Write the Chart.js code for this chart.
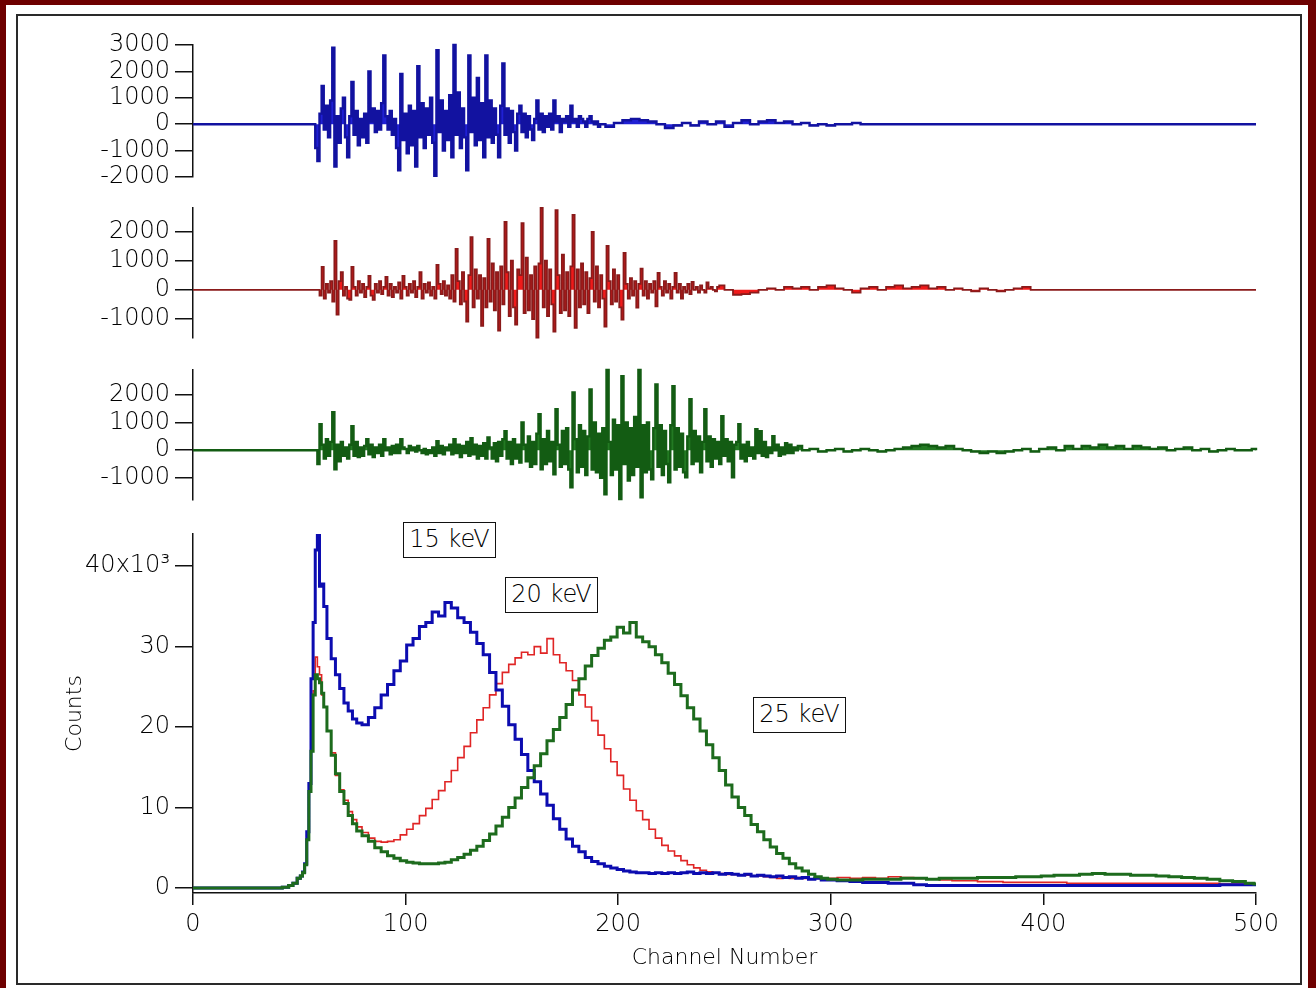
<!DOCTYPE html>
<html>
<head>
<meta charset="utf-8">
<script src="https://cdn.jsdelivr.net/npm/chart.js@4/dist/chart.umd.min.js"></script>
<style>
  body { margin: 0; width: 1316px; height: 988px; background: #6e0000; position: relative; overflow: hidden; }
  #sheet { position: absolute; left: 6px; top: 5px; width: 1302px; height: 983px; background: #fff; }
  #frame { position: absolute; left: 16px; top: 14px; width: 1282px; height: 967px; border: 2px solid #2a2a2a; }
  canvas { position: absolute; left: 0; }
  .tag {
    position: absolute; box-sizing: border-box; border: 1.5px solid #111; background: #fff;
    font: 300 24px "DejaVu Sans", sans-serif; color: #000; text-align: center; line-height: 33px;
    width: 93px; height: 36px;
  }
</style>
</head>
<body>
<div id="sheet"></div>
<div id="frame"></div>
<canvas id="bluePanel" width="1316" height="172" style="top:25px"></canvas>
<canvas id="redPanel" width="1316" height="170" style="top:188px"></canvas>
<canvas id="greenPanel" width="1316" height="170" style="top:350px"></canvas>
<canvas id="countsPanel" width="1316" height="469" style="top:514px"></canvas>
<div class="tag" style="left:403px;top:522px">15 keV</div>
<div class="tag" style="left:505px;top:577px">20 keV</div>
<div class="tag" style="left:753px;top:697px">25 keV</div>

<script>
// ---- oscillation traces (one value per channel in the burst, every 4 channels in the tail) ----
const blueBurstStart = 56;
const blueBurst = [
  0, 0, -900, -1400, 400, 1450, -200, 700, -500, 900,
  2900, -1600, 300, -700, 600, 1000, -500, -1250, 300, 1600,
  -400, 500, -800, 200, -500, 400, -700, 2000, 100, 600,
  -300, 500, -200, 800, 2600, 300, -200, 500, -400, 200,
  -900, -1750, 1900, -600, 400, -1100, 700, -800, 500, -1600,
  2200, -500, 800, -900, 600, -400, 1000, -700, -1950, 2800,
  -300, 900, -1000, 500, -600, 1100, -1250, 3000, -400, 1200,
  -900, 600, -500, -1750, 2600, -300, 1000, -800, 1750, -600,
  800, -1250, 2600, -500, 900, -700, 600, -400, -1250, 700,
  2300, -400, 600, -700, 500, -300, -1000, 400, 700, -300,
  400, -500, 300, -200, -600, 200, 900, -200, 400, -300,
  300, -100, 400, -200, 900, 100, 300, -300, 200, 100,
  300, -100, 700, 100, 200, -100, 300, 200, 100, -100,
  200, 300, 100, 0, 100, -100
];
const blueTailStart = 192;
const blueTail = [
  0, -100, 50, 150, 200, 150, 100, 0, -150, -50,
  50, -50, 100, 0, 100, -100, 50, 150, 0, 100,
  150, 50, 100, 0, 50, -50, 0, -50, 0, 0,
  50, 0, 0
];

const redBurstStart = 58;
const redBurst = [
  0, 0, -200, 785, -300, 200, -100, 300, -400, 1670,
  -850, 300, 600, -200, 100, -300, -340, 785, 100, -200,
  300, -100, 200, -250, 100, 480, -200, -340, 200, -100,
  300, -150, 100, 440, -200, 200, -250, 100, -100, 250,
  -300, 480, 100, -200, 200, -100, 300, -250, 100, 600,
  -300, 200, -100, 250, -200, 100, -300, 850, 200, -150,
  300, -200, 150, -300, 500, -400, 1400, 300, -500, 600,
  -400, -1090, 500, 1800, -600, 700, -300, 500, -1230, 400,
  -600, 1740, -400, 900, -700, 600, -1400, 800, -500, 2320,
  600, -900, 1000, -600, -1190, 700, 500, 2280, -800, 1100,
  -700, 500, -1000, 800, -1640, 900, 2800, -600, 1000, -900,
  700, -500, -1430, 2730, 500, -800, 1200, -700, 600, -900,
  800, 2560, -1300, 700, -600, 900, -500, 600, -800, 400,
  1980, -400, 800, -600, 500, -300, -1260, 1500, 300, -500,
  700, -400, 500, -600, -1020, 1260, 200, -300, 400, -200,
  300, -610, 200, 720, -200, 300, -300, 200, -100, 300,
  -570, 580, 100, -200, 300, -100, 200, -300, 100, 580,
  -100, 200, -300, 100, -100, 200, -150, 270, 0, 100,
  -100, 150, 0, -100, 250, 50, 100, 0, -50, 100
];
const redTailStart = 248;
const redTail = [
  150, 0, -170, -150, -100, 0, 50, 0, 100, 50,
  100, 0, 100, 150, 50, 0, -100, 50, 100, 0,
  100, 150, 50, 100, 150, 50, 100, 0, 50, 0,
  -50, 50, 0, -50, 0, 50, 100, 0
];

const greenBurstStart = 56;
const greenBurst = [
  0, 0, 0, -500, 940, 200, -300, 400, -200, 300,
  1370, -690, 200, -400, 300, -200, 100, -300, 200, 870,
  -200, 300, -250, 100, -200, 150, 400, -150, 200, -250,
  100, -100, 200, -200, 400, 0, 100, -150, 150, -100,
  200, -100, 400, 100, 50, -100, 150, 0, 100, -50,
  150, 0, -100, 50, -150, 0, -100, 100, -200, 330,
  -100, 150, -150, 100, 0, 200, -150, 400, -100, 200,
  -250, 150, -100, 300, -200, 430, -150, 200, -300, 150,
  -200, 250, -300, 460, 100, -300, 250, -400, 300, -200,
  400, 690, -300, 300, -500, 400, -300, 200, -450, 1000,
  200, -400, 500, -600, 300, -500, 600, 1300, -690, 400,
  -500, 700, -400, 300, -870, 1480, 200, -600, 700, -500,
  800, -700, -1340, 2090, 400, -800, 900, -600, 700, -900,
  500, 2200, -700, 1000, -800, 600, -1000, 800, -1590, 2900,
  300, -900, 1100, -700, 900, -1770, 2680, -500, 1000, -1100,
  800, -900, 1200, -600, 2900, -1700, 900, -800, 1000, -700,
  -1050, 800, 2380, -600, 900, -900, 700, -500, -1160, 900,
  2310, -700, 800, -600, 600, -800, -980, 500, 1840, -500,
  700, -400, 500, -800, 300, 1480, -400, 500, -600, 400,
  -300, 300, -500, 1230, -200, 400, -400, 300, -980, 200,
  300, 940, -300, 200, -400, 300, -200, 100, -300, 760,
  -100, 690, -200, 300, -250, 100, -100, 510, 0, 200,
  -200, 100, -150, 250, -100, 200, -100, 100, 0, 150
];
const greenTailStart = 288;
const greenTail = [
  0, 50, -50, 0, 50, -50, 0, 50, 0, -50,
  0, 50, 100, 150, 200, 150, 100, 150, 50, 0,
  -50, -100, -50, -100, -50, 0, 50, -50, 50, 100,
  0, 150, 50, 150, 100, 200, 100, 150, 50, 150,
  100, 50, 100, 0, 50, 100, 0, 50, -50, 0,
  50, 0, 0, 50
];

// ---- energy spectra ----
const countChannels = [
  0, 10, 20, 30, 40, 44, 46, 48, 50,
  51, 52, 53, 54, 55, 56, 57, 58, 59, 60, 61, 62,
  64, 66, 68, 70, 72, 74, 76, 78,
  81, 84, 87, 90, 93, 96, 99, 102, 105, 108,
  111, 114, 117, 120, 123, 126, 129, 132, 135, 138,
  141, 144, 147, 150, 153, 156, 159, 162, 165, 168,
  171, 174, 177, 180, 183, 186, 189, 192, 195, 198,
  201, 204, 207, 210, 213, 216, 219, 222, 225, 228,
  231, 234, 237, 240, 243, 246, 249, 252, 255, 258,
  261, 264, 267, 270, 273, 276, 279, 282, 285, 288,
  291, 294, 297, 300,
  306, 312, 318, 324, 330, 336, 342, 348, 354, 360,
  366, 372, 378, 384, 390, 396, 402, 408, 414, 420,
  426, 432, 438, 444, 450, 456, 462, 468, 474, 480,
  486, 492, 498, 500
];
const counts15keV = [
  0, 0, 0, 0, 0, 100, 300, 600, 1200,
  1500, 2000, 3000, 7000, 13000, 26000, 33000, 42000, 44200, 37500, 37800, 35000,
  31000, 28500, 26500, 24800, 23000, 22000, 21000, 20500,
  20300, 21200, 22400, 24000, 25300, 27000, 28200, 30200, 31000, 32500,
  33000, 34300, 33800, 35500, 34800, 33600, 33000, 31800, 30400, 29000,
  26800, 24600, 22600, 20300, 18500, 16600, 14600, 13200, 11700, 10300,
  8600, 7300, 6100, 5200, 4500, 3800, 3300, 3000, 2700, 2500,
  2300, 2100, 2000, 1900, 1900, 1800, 1900, 1800, 1900, 1800,
  1900, 2000, 1800, 1900, 1800, 1900, 1700, 1800, 1700, 1600,
  1700, 1500, 1600, 1500, 1400, 1500, 1300, 1400, 1200, 1300,
  1100, 1200, 1000, 1000,
  900, 800, 700, 700, 600, 600, 400, 300, 300, 300,
  300, 300, 300, 300, 300, 300, 300, 300, 300, 300,
  300, 300, 300, 300, 300, 300, 300, 300, 300, 300,
  400, 400, 400, 400
];
const counts20keV = [
  0, 0, 0, 0, 0, 100, 300, 600, 1200,
  1500, 2000, 3000, 6500, 12500, 17500, 24500, 28700, 27500, 26500, 24000, 22500,
  19500, 16800, 14000, 12200, 10900, 9500, 8500, 7600,
  6900, 6200, 5800, 5700, 5800, 6000, 6600, 7300, 8000, 9000,
  9900, 11000, 12100, 13200, 14600, 16200, 17600, 19300, 20900, 22400,
  24000, 25400, 26800, 27800, 28600, 29300, 29000, 30000, 29200, 31000,
  29000, 28000, 27000, 25800, 24000, 22500, 20800, 19000, 17300, 15700,
  14000, 12300, 10900, 9600, 8500, 7300, 6200, 5300, 4600, 4000,
  3400, 2900, 2500, 2200, 2000, 1900, 1800, 1700, 1700, 1600,
  1600, 1500, 1500, 1400, 1300, 1200, 1300, 1200, 1300, 1200,
  1100, 1200, 1100, 1200,
  1300, 1200, 1300, 1200, 1400, 1300, 1200, 1100, 1000, 900,
  900, 800, 800, 700, 700, 700, 700, 700, 600, 600,
  600, 600, 600, 600, 600, 600, 600, 600, 600, 600,
  500, 500, 500, 400
];
const counts25keV = [
  0, 0, 0, 0, 0, 100, 300, 600, 1200,
  1500, 1900, 2900, 6000, 12000, 17000, 24000, 26500, 26000, 25500, 24200, 22500,
  19500, 16500, 14200, 12000, 10500, 9000, 8000, 7100,
  6500, 5800, 5000, 4500, 4000, 3700, 3400, 3200, 3100, 3000,
  3000, 3000, 3100, 3200, 3500, 3800, 4200, 4700, 5200, 5900,
  6700, 7700, 8800, 10000, 11200, 12500, 13700, 15200, 16700, 18300,
  19700, 21200, 22800, 24600, 26000, 27600, 28900, 29800, 30800, 31200,
  32400, 31700, 33000, 31200, 30600, 30000, 29000, 28000, 26700, 25300,
  23900, 22400, 21000, 19500, 17800, 16200, 14600, 12800, 11300, 10000,
  9000, 7900, 7000, 6000, 5100, 4300, 3700, 3000, 2500, 2100,
  1700, 1400, 1200, 1100,
  1000, 1000, 1100, 1100, 1100, 1200, 1200, 1100, 1200, 1200,
  1200, 1300, 1300, 1300, 1400, 1400, 1500, 1600, 1600, 1700,
  1800, 1700, 1700, 1600, 1600, 1500, 1400, 1300, 1200, 1100,
  900, 800, 600, 500
];

const waveTicks = [-2000, -1000, 0, 1000, 2000, 3000];
const countTicks = [0, 10000, 20000, 30000, 40000];
const channelTicks = [0, 100, 200, 300, 400, 500];

// ---- helpers ----
const tickFont = { family: "DejaVu Sans", size: 24, weight: "300", lineHeight: 1 };
const titleFont = { family: "DejaVu Sans", size: 22, weight: "300" };
const ink = "#111";
const textInk = "#000";

function toPoints(start, step, values) {
  return values.map((v, i) => ({ x: start + i * step, y: v }));
}

function waveTrace(burstStart, burst, tailStart, tail) {
  return [
    { x: 0, y: 0 },
    ...toPoints(burstStart, 1, burst),
    ...toPoints(tailStart, 4, tail),
    { x: 500, y: 0 },
  ];
}

// fixed tick list, kept inside [min, max]
function fixTicks(list) {
  return (scale) => {
    scale.ticks = list
      .filter((v) => v >= scale.min && v <= scale.max)
      .map((v) => ({ value: v }));
  };
}

function yAxis(min, max, list, label) {
  return {
    min,
    max,
    afterFit: (scale) => { scale.width = 193; },
    afterBuildTicks: fixTicks(list),
    border: { color: ink, width: 1.5 },
    grid: { drawOnChartArea: false, drawTicks: true, tickLength: 18, color: ink, lineWidth: 1.5 },
    ticks: { autoSkip: false, color: textInk, font: tickFont, padding: 5, callback: label },
  };
}

function waveChart(id, data, line, fill, lineWidth, min, max) {
  new Chart(document.getElementById(id), {
    type: "line",
    data: {
      datasets: [{
        data,
        borderColor: line,
        backgroundColor: fill,
        borderWidth: lineWidth,
        fill: "origin",
        stepped: "middle",
        pointRadius: 0,
        clip: false,
      }],
    },
    options: {
      responsive: false,
      animation: false,
      devicePixelRatio: 1,
      layout: { padding: { top: 20, bottom: 20, left: 0, right: 60 } },
      plugins: { legend: { display: false }, tooltip: { enabled: false } },
      scales: {
        x: { type: "linear", min: 0, max: 500, display: false },
        y: yAxis(min, max, waveTicks, (v) => String(v)),
      },
    },
  });
}

// ================= WAVE PANELS =================
waveChart("bluePanel", waveTrace(blueBurstStart, blueBurst, blueTailStart, blueTail),
  "#1212a0", "#2020d4", 2.4, -2000, 3000);
waveChart("redPanel", waveTrace(redBurstStart, redBurst, redTailStart, redTail),
  "#8a1a1a", "#f01a1a", 1.8, -1650, 2800);
waveChart("greenPanel", waveTrace(greenBurstStart, greenBurst, greenTailStart, greenTail),
  "#135c13", "#237a23", 2.4, -1800, 2900);

// ================= SPECTRA =================
const spectrum = (values) => countChannels.map((ch, i) => ({ x: ch, y: values[i] }));

const countsAxis = yAxis(-620, 44000, countTicks,
  (v) => v === 40000 ? "40x10³" : String(v / 1000));
countsAxis.title = {
  display: true,
  text: "Counts",
  color: textInk,
  font: titleFont,
  padding: { top: 62, bottom: 0 },
};

new Chart(document.getElementById("countsPanel"), {
  type: "line",
  data: {
    datasets: [
      { data: spectrum(counts25keV), borderColor: "#1d6b1d", borderWidth: 3, order: 0 },
      { data: spectrum(counts15keV), borderColor: "#0c0cb0", borderWidth: 3, order: 1 },
      { data: spectrum(counts20keV), borderColor: "#e02525", borderWidth: 1.6, order: 2 },
    ].map((ds) => ({ ...ds, stepped: "middle", pointRadius: 0, fill: false })),
  },
  options: {
    responsive: false,
    animation: false,
    devicePixelRatio: 1,
    layout: { padding: { top: 20, bottom: 0, left: 0, right: 60 } },
    plugins: { legend: { display: false }, tooltip: { enabled: false } },
    scales: {
      x: {
        type: "linear",
        min: 0,
        max: 500,
        afterFit: (scale) => { scale.height = 90; },
        afterBuildTicks: fixTicks(channelTicks),
        border: { color: ink, width: 1.5 },
        grid: { drawOnChartArea: false, drawTicks: true, tickLength: 12, color: ink, lineWidth: 1.5 },
        ticks: {
          autoSkip: false,
          maxRotation: 0,
          color: textInk,
          font: tickFont,
          padding: 8,
          callback: (v) => String(v),
        },
        title: {
          display: true,
          text: "Channel Number",
          color: textInk,
          font: titleFont,
          padding: { top: 0, bottom: 12 },
        },
      },
      y: countsAxis,
    },
  },
});
</script>
</body>
</html>
